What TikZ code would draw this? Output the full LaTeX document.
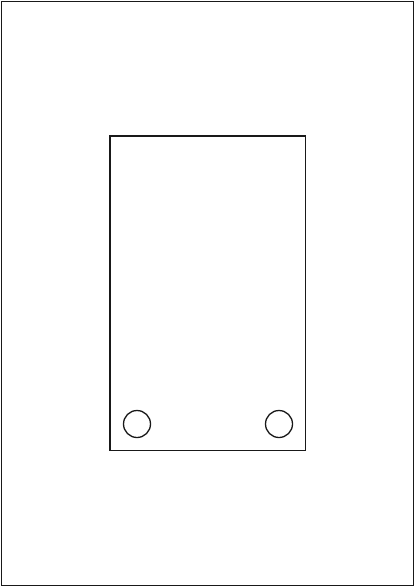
\documentclass[tikz,border=0pt]{standalone}
\usepackage{tikz}
\definecolor{LineGray}{gray}{0.1}

\begin{document}
\begin{tikzpicture}[x=1pt, y=-1pt, thick, line width=1.3pt]
				\useasboundingbox (0,0) rectangle (416,588);

				% sheet outline
				\draw[LineGray] (1.5,1.5) rectangle (413.5,585.5);

				% inner panel
				\draw[LineGray] (110,136) rectangle (305.5,450.5);

				% holes
				\draw[LineGray] (137,424) circle (13.5);
				\draw[LineGray] (279,424) circle (13.5);
			\end{tikzpicture}
\end{document}
